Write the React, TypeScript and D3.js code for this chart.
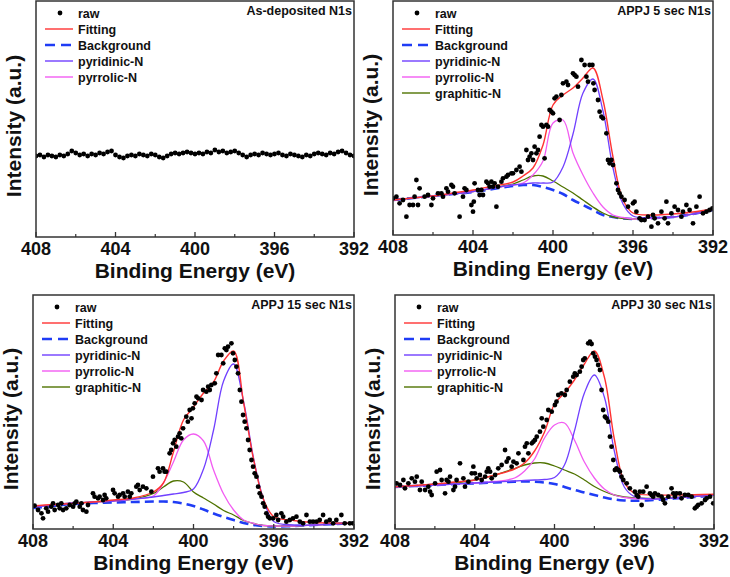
import React from 'react';
import * as d3 from 'd3';

type Pt = [number, number];

const FONT = '"Liberation Sans", Arial, sans-serif';

const xTicks = [408, 404, 400, 396, 392];
const xMinorTicks = [406, 402, 398, 394];
const legendLabels = ['raw', 'Fitting', 'Background', 'pyridinic-N', 'pyrrolic-N', 'graphitic-N'];
const panelTitles = ['As-deposited N1s', 'APPJ 5 sec N1s', 'APPJ 15 sec N1s', 'APPJ 30 sec N1s'];

const fitEnergy = [408, 407, 406, 405, 404, 403, 402, 401.5, 401, 400.5, 400, 399.5, 399,
    398.5, 398, 397.5, 397, 396.5, 396, 395, 394, 393, 392];

// as-deposited: flat noisy trace, one point every 0.2 eV from 408 down
const p1Step = 0.2;
const p1Raw = [
    81, 82, 80, 82, 81, 80, 82, 81, 83,
    86, 84, 82, 83, 81, 83, 82, 84, 83,
    85, 86, 82, 80, 79, 81, 82, 81, 83,
    82, 81, 83, 82, 80, 79, 81, 83, 84,
    83, 84, 85, 84, 83, 84, 83, 85, 84,
    87, 85, 86, 84, 85, 86, 84, 82, 80,
    82, 83, 82, 84, 83, 82, 83, 84, 82,
    81, 83, 82, 81, 80, 82, 81, 83, 84,
    83, 82, 84, 83, 85, 86, 84, 82, 81,
];

// APPJ 5 sec
const p2Raw: Pt[] = [
    [408.0, 36.7], [407.83, 38.3], [407.67, 31.7], [407.5, 35], [407.33, 18.3], [407.17, 30],
    [407.0, 30], [406.92, 38.3], [406.83, 55], [406.75, 30], [406.67, 46.7], [406.42, 38.3],
    [406.25, 40], [406.08, 30], [406.0, 36.7], [405.75, 41.7], [405.58, 41.7], [405.5, 38.3],
    [405.33, 46.7], [405.25, 43.3], [405.08, 50], [405.0, 48.3], [404.92, 41.7], [404.67, 18.3],
    [404.5, 38.3], [404.42, 46.7], [404.33, 45], [404.08, 30], [404.0, 23.3], [403.96, 33.3],
    [403.92, 51.7], [403.75, 45], [403.67, 40], [403.58, 45], [403.5, 40], [403.33, 53.3],
    [403.25, 51.7], [403.17, 48.3], [403.08, 53.3], [403.0, 48.3], [402.92, 51.7], [402.83, 28.3],
    [402.75, 48.3], [402.58, 53.3], [402.5, 56.7], [402.33, 58.3], [402.25, 60], [402.08, 61.7],
    [402.0, 61.7], [401.83, 65], [401.67, 68.3], [401.58, 63.3], [401.33, 85], [401.25, 75],
    [401.17, 78.3], [401.08, 81.7], [401.0, 75], [400.92, 88.3], [400.83, 81.7], [400.75, 85],
    [400.67, 98.3], [400.58, 110], [400.5, 108.3], [400.42, 76.7], [400.33, 110], [400.25, 108.3],
    [400.17, 125], [400.08, 123.3], [400.0, 121.7], [399.92, 136.7], [399.83, 138.3], [399.67, 115],
    [399.58, 140], [399.5, 151.7], [399.33, 153.3], [399.25, 150], [399.0, 161.7], [398.92, 160],
    [398.83, 158.3], [398.75, 148.3], [398.58, 175], [398.42, 170], [398.33, 158.3], [398.25, 153.3],
    [398.17, 170], [398.03, 170], [397.98, 151.7], [397.92, 145], [397.75, 135], [397.67, 123.3],
    [397.58, 118.3], [397.5, 116.7], [397.33, 101.7], [397.25, 75], [397.17, 71.7], [397.08, 75],
    [397.0, 70], [396.83, 51.7], [396.75, 45], [396.67, 41.7], [396.58, 38.3], [396.42, 35],
    [396.25, 28.3], [396.0, 31.7], [395.92, 33.3], [395.83, 23.3], [395.67, 16.7], [395.58, 15],
    [395.42, 15], [395.25, 18.3], [395.08, 8.3], [395.0, 20], [394.92, 16.7], [394.75, 11.7],
    [394.58, 23.3], [394.42, 16.7], [394.33, 33.3], [394.25, 11.7], [394.08, 21.7], [393.92, 28.3],
    [393.75, 25], [393.58, 18.3], [393.5, 23.3], [393.33, 30], [393.17, 25], [393.0, 11.7],
    [392.83, 28.3], [392.67, 38.3], [392.5, 21.7], [392.33, 23.3], [392.17, 25], [392.03, 26.7],
];
const p2Background = [35, 37, 39, 41, 43, 46, 49, 50, 50, 48, 45, 41, 35, 30, 25, 20, 18, 16.5, 16, 17, 18, 21, 25];
const p2Graphitic = [35, 37, 39, 41, 43.5, 47, 51, 55, 59, 59, 54, 48, 42, 35, 28, 22, 18, 16.5, 16, 17, 18, 21, 25];
const p2Pyridinic = [35, 37, 39, 41, 43.5, 47, 50, 51, 52, 52, 53, 68, 101, 142, 156, 124, 67, 31, 19, 17.5, 18, 21, 25];
const p2Pyrrolic = [35, 37, 39, 41, 43.5, 47, 50, 52, 60, 74, 112, 115, 82, 60, 42, 28, 20, 17.5, 16, 17, 18, 21, 25];
const p2Fit = [35, 37, 39, 42, 45, 49, 53, 59, 67, 90, 130, 140, 147, 157, 167, 135, 78, 35, 22, 20, 21, 23, 26];

// APPJ 15 sec
const p3Raw: Pt[] = [
    [407.92, 23.3], [407.75, 19], [407.58, 15.7], [407.5, 10.7], [407.34, 20.7], [407.25, 17.3],
    [407.09, 22.3], [407.0, 25.7], [406.92, 19], [406.75, 24], [406.67, 20.7], [406.59, 25.7],
    [406.5, 19], [406.34, 20.7], [406.17, 24], [406.0, 22.3], [405.92, 25.7], [405.84, 27.3],
    [405.67, 22.3], [405.59, 25.7], [405.51, 19], [405.34, 17.3], [405.26, 24], [405.01, 35.7],
    [404.93, 32.3], [404.76, 30.7], [404.68, 32.3], [404.51, 29], [404.43, 34], [404.35, 30.7],
    [404.01, 39], [403.93, 35.7], [403.76, 32.3], [403.68, 34], [403.51, 35.7], [403.43, 32.3],
    [403.27, 37.3], [403.18, 32.3], [403.1, 35.7], [402.85, 42.3], [402.77, 44], [402.68, 39],
    [402.52, 42.3], [402.35, 40.7], [402.1, 37.3], [402.02, 52.3], [401.77, 60.7], [401.69, 57.3],
    [401.52, 60.7], [401.44, 57.3], [401.36, 57.3], [401.19, 75.7], [401.11, 79], [401.02, 85.7],
    [400.94, 89], [400.86, 82.3], [400.77, 92.3], [400.69, 95.7], [400.61, 90.7], [400.52, 100.7],
    [400.36, 112.3], [400.28, 107.3], [400.19, 119], [400.1, 110.7], [400.03, 120.7], [399.94, 125.7],
    [399.85, 132.3], [399.77, 130.7], [399.6, 129], [399.52, 139], [399.36, 137.3], [399.27, 142.3],
    [399.19, 139], [399.11, 144], [398.94, 145.7], [398.86, 155.7], [398.77, 174], [398.61, 174],
    [398.52, 165.7], [398.44, 180.7], [398.36, 179], [398.28, 182.3], [398.11, 185.7], [398.03, 175.7],
    [397.94, 169], [397.86, 162.3], [397.78, 155.7], [397.69, 139], [397.61, 127.3], [397.53, 114],
    [397.45, 107.3], [397.36, 100.7], [397.28, 89], [397.2, 79], [397.11, 69], [397.03, 62.3],
    [396.95, 55.7], [396.86, 52.3], [396.78, 42.3], [396.7, 35.7], [396.61, 32.3], [396.53, 25.7],
    [396.45, 22.3], [396.37, 15.7], [396.28, 12.3], [396.2, 10.7], [396.03, 10.7], [395.87, 14],
    [395.78, 9], [395.62, 15.7], [395.53, 12.3], [395.37, 7.3], [395.2, 9], [395.04, 10.7],
    [394.87, 12.3], [394.7, 7.3], [394.54, 5.7], [394.37, 14], [394.2, 7.3], [394.04, 7.3],
    [393.87, 7.3], [393.71, 9], [393.54, 14], [393.38, 7.3], [393.21, 9], [393.04, 5.7],
    [392.88, 9], [392.63, 14], [392.46, 5.7], [392.21, 5.7], [392.05, 5.7],
];
const p3Background = [21, 23, 25, 26, 26.5, 27, 27.5, 27.5, 27, 25.5, 23, 19.5, 15.5, 12, 9, 6, 4, 3, 2.5, 3, 4, 5, 6];
const p3Graphitic = [22, 24, 26, 27, 28, 30, 35.5, 42, 48, 47, 37, 31, 25, 18.5, 14, 8.5, 5.5, 3.5, 3, 3, 4, 5, 6];
const p3Pyridinic = [22, 24, 26, 27, 28, 30, 32, 33.5, 35, 36.5, 40, 60, 99, 148, 165, 127, 70, 29, 7.5, 4, 4, 5, 6];
const p3Pyrrolic = [22, 24, 26, 27, 28, 30, 33, 46, 67, 89, 95, 88, 59, 35, 19, 9, 5.5, 3.5, 3, 3, 4, 5, 6];
const p3Fit = [23, 24.5, 25.5, 27, 29, 31, 37, 46, 77, 109, 122, 136, 147, 168, 178, 126, 69, 29, 12.5, 8.5, 6.5, 6, 5.7];

// APPJ 30 sec
const p4Raw: Pt[] = [
    [407.92, 45.7], [407.75, 44], [407.58, 49], [407.5, 40.7], [407.33, 45.7], [407.16, 50.7],
    [407.0, 47.3], [406.91, 52.3], [406.75, 39], [406.66, 47.3], [406.49, 39], [406.33, 42.3],
    [406.24, 37.3], [406.16, 34], [405.99, 45.7], [405.91, 57.3], [405.74, 59], [405.66, 49],
    [405.49, 35.7], [405.41, 49], [405.32, 47.3], [405.24, 52.3], [405.07, 39], [404.99, 42.3],
    [404.91, 49], [404.74, 65.7], [404.57, 50.7], [404.49, 42.3], [404.32, 47.3], [404.15, 55.7],
    [404.07, 62.3], [403.99, 55.7], [403.9, 50.7], [403.74, 54], [403.65, 49], [403.48, 52.3],
    [403.4, 57.3], [403.32, 60.7], [403.23, 57.3], [403.15, 50.7], [402.98, 54], [402.82, 60.7],
    [402.65, 64], [402.48, 79], [402.4, 67.3], [402.31, 70.7], [402.15, 62.3], [402.06, 67.3],
    [401.9, 65.7], [401.81, 75.7], [401.56, 69], [401.48, 82.3], [401.39, 85.7], [401.31, 75.7],
    [401.14, 85.7], [401.06, 87.3], [400.98, 89], [400.89, 92.3], [400.73, 97.3], [400.64, 110.7],
    [400.56, 102.3], [400.39, 109], [400.31, 119], [400.14, 117.3], [399.98, 124], [399.9, 127.3],
    [399.81, 134], [399.65, 135.7], [399.48, 134], [399.39, 139], [399.23, 147.3], [399.06, 152.3],
    [398.98, 155.7], [398.89, 154], [398.73, 157.3], [398.64, 162.3], [398.56, 169], [398.48, 170.7],
    [398.31, 185.7], [398.22, 187.3], [398.14, 185], [398.06, 175.7], [397.97, 172.3], [397.89, 169],
    [397.81, 164], [397.72, 159], [397.64, 139], [397.56, 119], [397.47, 112.3], [397.39, 110.7],
    [397.3, 107.3], [397.22, 92.3], [397.14, 82.3], [397.05, 69], [396.97, 59], [396.89, 60.7],
    [396.8, 59], [396.72, 57.3], [396.64, 52.3], [396.55, 49], [396.38, 45.7], [396.22, 40.7],
    [395.97, 37.3], [395.88, 34], [395.8, 32.3], [395.72, 37.3], [395.63, 24], [395.55, 37.3],
    [395.38, 42.3], [395.21, 35.7], [395.13, 34], [395.05, 32.3], [394.96, 35.7], [394.8, 34],
    [394.63, 32.3], [394.55, 29], [394.46, 25.7], [394.29, 32.3], [394.13, 40.7], [394.04, 35.7],
    [393.96, 32.3], [393.88, 35.7], [393.71, 35.7], [393.63, 30.7], [393.46, 34], [393.29, 34],
    [393.12, 32.3], [392.96, 20.7], [392.87, 22.3], [392.79, 24], [392.62, 25.7], [392.45, 29],
    [392.37, 30.7], [392.2, 32.3], [392.04, 25.7],
];
const p4Background = [42, 43, 44, 45, 45.7, 46.5, 47.3, 47.5, 47.3, 46.5, 45, 42, 39, 36.5, 34, 31.5, 29.5, 28.5, 28.3, 29, 30.5, 32, 33.5];
const p4Graphitic = [42, 43, 44.5, 46, 49, 54, 60.5, 64, 66, 66, 63, 59, 55, 49, 42.5, 37.5, 34, 32, 31, 30.7, 31.5, 32.5, 34];
const p4Pyridinic = [42, 43, 44, 45, 46, 47, 48, 48.5, 49, 49.5, 51.5, 64, 98, 136, 154, 132, 78, 42, 32.5, 30, 31, 32.5, 34];
const p4Pyrrolic = [42, 43, 44, 45, 46, 47.5, 51, 58, 70, 91, 104, 106, 89, 67, 51, 40, 34, 31.5, 30.5, 30, 31, 32.5, 34];
const p4Fit = [42.3, 43.5, 45, 47, 49, 54, 60, 66, 78, 97, 125, 136, 149, 165, 178, 152, 90, 47, 36, 34, 34, 34.3, 34.7];

const colors = {
    raw: '#000000',
    fit: '#ff3333',
    background: '#1f3cf5',
    pyridinic: '#7040ff',
    pyrrolic: '#f25cf2',
    graphitic: '#4f7300',
};

interface Curves {
    background: number[];
    fit: number[];
    pyridinic: number[];
    pyrrolic: number[];
    graphitic?: number[];
}

interface PanelProps {
    id: string;
    box: [number, number, number, number]; // left, right, top, bottom
    yMax: number;
    title: string;
    raw: Pt[];
    curves?: Curves;
    graphiticInLegend: boolean;
}

function Panel({ id, box, yMax, title, raw, curves, graphiticInLegend }: PanelProps) {
    const [x0, x1, y0, y1] = box;
    const x = d3.scaleLinear().domain([408, 392]).range([x0, x1]);
    const y = d3.scaleLinear().domain([0, yMax]).range([y1, y0]);
    const line = d3.line<Pt>()
        .x(d => x(d[0]))
        .y(d => y(d[1]))
        .curve(d3.curveCatmullRom.alpha(0.5));
    const path = (vals: number[]) => line(fitEnergy.map((e, i) => [e, vals[i]] as Pt)) || '';

    const labels = graphiticInLegend ? legendLabels : legendLabels.slice(0, 5);
    const legendColors = [colors.raw, colors.fit, colors.background, colors.pyridinic, colors.pyrrolic, colors.graphitic];

    return (
        <g>
            <defs>
                <clipPath id={`clip-${id}`}>
                    <rect x={x0} y={y0} width={x1 - x0} height={y1 - y0} />
                </clipPath>
            </defs>
            <g clipPath={`url(#clip-${id})`}>
                {curves && (
                    <g fill="none">
                        <path d={path(curves.background)} stroke={colors.background} strokeWidth={2.6} strokeDasharray="9,5" />
                        {curves.graphitic && <path d={path(curves.graphitic)} stroke={colors.graphitic} strokeWidth={1.3} />}
                        <path d={path(curves.pyrrolic)} stroke={colors.pyrrolic} strokeWidth={1.3} />
                        <path d={path(curves.pyridinic)} stroke={colors.pyridinic} strokeWidth={1.3} />
                        <path d={path(curves.fit)} stroke={colors.fit} strokeWidth={1.4} />
                    </g>
                )}
                {raw.map((d, i) => (
                    <circle key={i} cx={x(d[0])} cy={y(d[1])} r={2.4} fill={colors.raw} />
                ))}
            </g>

            {/* frame */}
            <rect x={x0} y={y0} width={x1 - x0} height={y1 - y0} fill="none" stroke="#333" strokeWidth={1.5} />

            {/* ticks, pointing inward */}
            {xTicks.map(t => (
                <g key={t}>
                    <line x1={x(t)} x2={x(t)} y1={y1} y2={y1 - 5} stroke="#333" strokeWidth={1.3} />
                    <text x={x(t)} y={y1 + 18} textAnchor="middle" fontSize={18} fontWeight="bold" fontFamily={FONT} fill="#111">{t}</text>
                </g>
            ))}
            {xMinorTicks.map(t => (
                <line key={t} x1={x(t)} x2={x(t)} y1={y1} y2={y1 - 3} stroke="#333" strokeWidth={1.2} />
            ))}

            <text x={(x0 + x1) / 2} y={y1 + 41} textAnchor="middle" fontSize={21} fontWeight="bold" fontFamily={FONT} fill="#111">
                Binding Energy (eV)
            </text>
            <text
                transform={`translate(${x0 - 15},${(y0 + y1) / 2 + 7}) rotate(-90)`}
                textAnchor="middle" fontSize={21} fontWeight="bold" fontFamily={FONT} fill="#111"
            >
                Intensity (a.u.)
            </text>

            <text x={x1 - 2} y={y0 + 14} textAnchor="end" fontSize={12.5} fontWeight="bold" fontFamily={FONT} fill="#111">
                {title}
            </text>

            {/* legend */}
            {labels.map((lab, i) => {
                const cy = y0 + 12 + i * 16;
                return (
                    <g key={lab}>
                        {i === 0 ? (
                            <circle cx={x0 + 24} cy={cy} r={2.4} fill={colors.raw} />
                        ) : (
                            <line
                                x1={x0 + 9} x2={x0 + 37} y1={cy} y2={cy}
                                stroke={legendColors[i]}
                                strokeWidth={i === 2 ? 2.6 : 1.4}
                                strokeDasharray={i === 2 ? '10,6' : undefined}
                            />
                        )}
                        <text x={x0 + 42} y={cy + 4.5} fontSize={12.5} fontWeight="bold" fontFamily={FONT} fill="#111">{lab}</text>
                    </g>
                );
            })}
        </g>
    );
}

export default function App() {
    const p1Points: Pt[] = p1Raw.map((v, i) => [408 - i * p1Step, v]);
    return (
        <svg
            width={730}
            height={577}
            style={{ position: 'absolute', left: 0, top: 0, background: '#fff' }}
        >
            <Panel id="p1" box={[36, 354, 1, 237]} yMax={236} title={panelTitles[0]} raw={p1Points} graphiticInLegend={false} />
            <Panel
                id="p2" box={[393, 713, 1, 235]} yMax={234} title={panelTitles[1]} raw={p2Raw} graphiticInLegend
                curves={{ background: p2Background, graphitic: p2Graphitic, pyridinic: p2Pyridinic, pyrrolic: p2Pyrrolic, fit: p2Fit }}
            />
            <Panel
                id="p3" box={[33, 354, 295, 529]} yMax={234} title={panelTitles[2]} raw={p3Raw} graphiticInLegend
                curves={{ background: p3Background, graphitic: p3Graphitic, pyridinic: p3Pyridinic, pyrrolic: p3Pyrrolic, fit: p3Fit }}
            />
            <Panel
                id="p4" box={[395, 714, 295, 529]} yMax={234} title={panelTitles[3]} raw={p4Raw} graphiticInLegend
                curves={{ background: p4Background, graphitic: p4Graphitic, pyridinic: p4Pyridinic, pyrrolic: p4Pyrrolic, fit: p4Fit }}
            />
        </svg>
    );
}
